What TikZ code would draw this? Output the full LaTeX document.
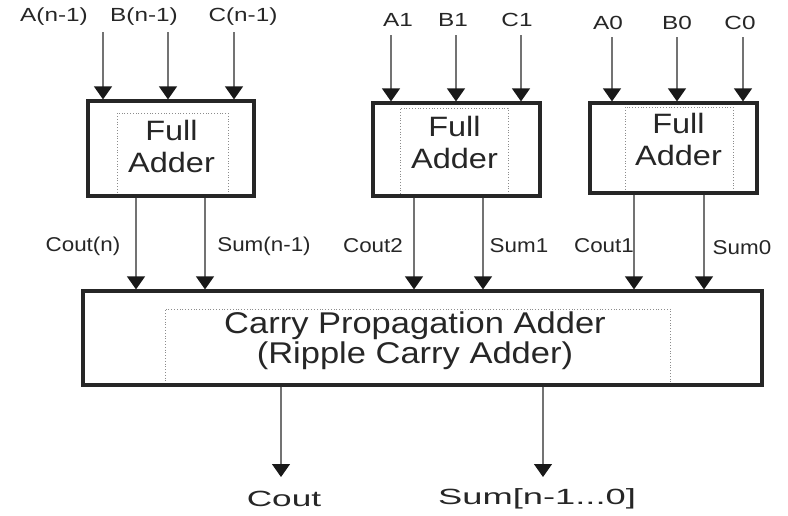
\documentclass[tikz,border=0pt]{standalone}
\usepackage{fontspec}
\usepackage{graphicx}
\setmainfont{Liberation Sans}
\usetikzlibrary{arrows.meta}
\newcommand\wx[2]{\scalebox{#1}[1]{#2}}
\begin{document}
\begin{tikzpicture}[x=1pt,y=-1pt,
  blk/.style={draw=black!85,line width=3.2pt,minimum width=#1,inner sep=0pt},
  inbox/.style={draw=black!45,dotted,line width=0.8pt,inner sep=0pt},
  arr/.style={draw=black!55,line width=1.2pt,-{Triangle[width=18pt,length=13pt,color=black!90,fill=black!90]}},
  big/.style={font=\fontsize{28}{32}\selectfont,align=center,text=black!85},
  cpatxt/.style={font=\fontsize{30}{30}\selectfont,align=center,text=black!85},
  lbl/.style={font=\fontsize{19}{20}\selectfont,text=black!85},
  sml/.style={font=\fontsize{20}{22}\selectfont,text=black!85},
  outlbl/.style={font=\fontsize{22}{24}\selectfont,text=black!85}]
\useasboundingbox (0,0) rectangle (788,515);
% inner dotted boxes
\node[inbox,minimum width=111pt,minimum height=83pt] (i1) at (172.5,154.5) {};
\node[inbox,minimum width=108pt,minimum height=88pt] (i2) at (454,152) {};
\node[inbox,minimum width=108pt,minimum height=86pt] (i3) at (679,150) {};
\node[inbox,minimum width=505pt,minimum height=75pt] (i4) at (417.5,346.5) {};
% blocks
\node[blk=166pt,minimum height=95pt] (b1) at (171,148.5) {};
\node[blk=167pt,minimum height=93pt] (b2) at (456.5,149.5) {};
\node[blk=167pt,minimum height=90pt] (b3) at (673.5,148) {};
\node[blk=679pt,minimum height=94pt] (cpa) at (422.5,338) {};
% block texts
\node[big] (t1) at (171.5,146) {\wx{1.16}{Full}\\\wx{1.16}{Adder}};
\node[big] (t2) at (454.5,142) {\wx{1.16}{Full}\\\wx{1.16}{Adder}};
\node[big] (t3) at (678.5,139) {\wx{1.16}{Full}\\\wx{1.16}{Adder}};
\node[cpatxt] (t4) at (415,341) {\wx{1.15}{Carry Propagation Adder}\\\wx{1.15}{(Ripple Carry Adder)}};
% input labels
\node[lbl] (la2) at (54,17) {\wx{1.28}{A(n-1)}};
\node[lbl] (lb2) at (144,17) {\wx{1.28}{B(n-1)}};
\node[lbl] (lc2) at (243,17) {\wx{1.28}{C(n-1)}};
\node[lbl] (la1) at (398,20) {\wx{1.28}{A1}};
\node[lbl] (lb1) at (453,20) {\wx{1.28}{B1}};
\node[lbl] (lc1) at (517,20) {\wx{1.28}{C1}};
\node[lbl] (la0) at (608,23) {\wx{1.28}{A0}};
\node[lbl] (lb0) at (677,23) {\wx{1.28}{B0}};
\node[lbl] (lc0) at (740,23) {\wx{1.28}{C0}};
% input arrows
\coordinate (sa2) at (103,32);
\coordinate (sb2) at (168,32);
\coordinate (sc2) at (234,32);
\coordinate (sa1) at (391,35);
\coordinate (sb1) at (456,35);
\coordinate (sc1) at (521,35);
\coordinate (sa0) at (612,37);
\coordinate (sb0) at (677,37);
\coordinate (sc0) at (743,37);
\foreach \s/\b in {sa2/b1,sb2/b1,sc2/b1,sa1/b2,sb1/b2,sc1/b2,sa0/b3,sb0/b3,sc0/b3}
  \draw[arr] (\s) -- (\s |- \b.north);
% intermediate arrows
\coordinate (o1) at (136,0);
\coordinate (o2) at (205,0);
\coordinate (o3) at (414,0);
\coordinate (o4) at (483,0);
\coordinate (o5) at (634,0);
\coordinate (o6) at (704,0);
\foreach \s/\b in {o1/b1,o2/b1,o3/b2,o4/b2,o5/b3,o6/b3}
  \draw[arr] (\s |- \b.south) -- (\s |- cpa.north);
\node[sml] (lco2) at (83,246) {\wx{1.12}{Cout(n)}};
\node[sml] (ls2) at (264,246) {\wx{1.12}{Sum(n-1)}};
\node[sml] (lco1) at (373,246) {\wx{1.12}{Cout2}};
\node[sml] (ls1) at (519,246) {\wx{1.12}{Sum1}};
\node[sml] (lco0) at (604,246) {\wx{1.12}{Cout1}};
\node[sml] (ls0) at (742,248) {\wx{1.12}{Sum0}};
% outputs
\node[outlbl] (cout) at (284,499) {\wx{1.6}{Cout}};
\node[outlbl] (sum) at (537,499) {\wx{1.65}{Sum[n-1...0]}};
\coordinate (e1) at (281,477);
\coordinate (e2) at (543,477);
\draw[arr] (e1 |- cpa.south) -- (e1);
\draw[arr] (e2 |- cpa.south) -- (e2);
\end{tikzpicture}
\end{document}
